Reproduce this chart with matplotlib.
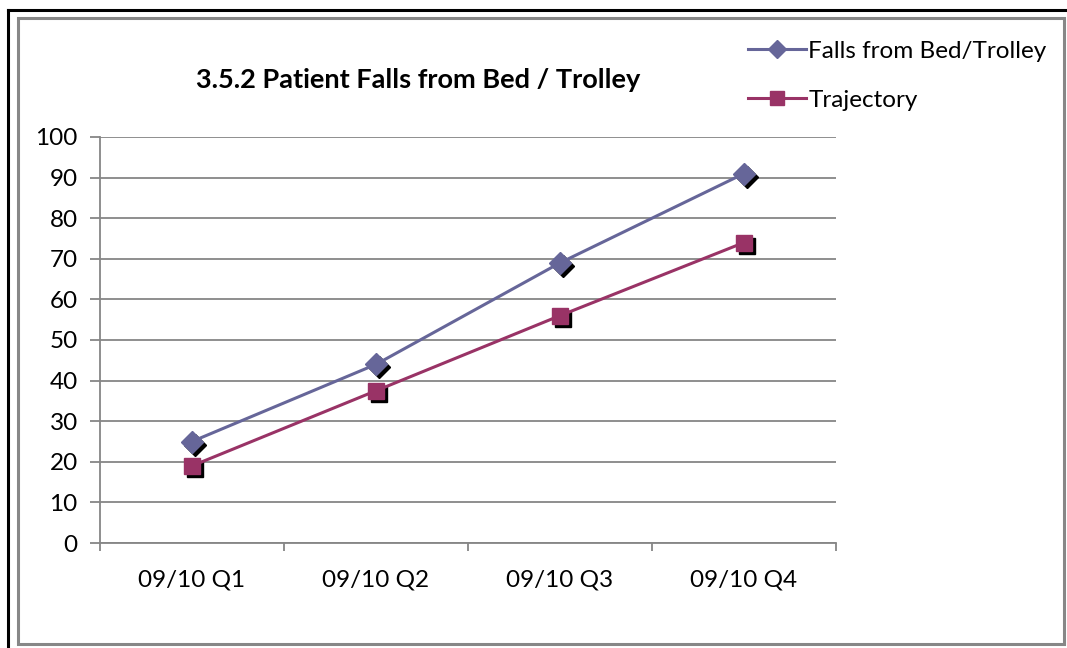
import matplotlib.pyplot as plt
import matplotlib.transforms as mtransforms
from matplotlib.lines import Line2D
from matplotlib.patches import Rectangle
import numpy as np

plt.rcParams['font.family'] = ['Lato', 'DejaVu Sans']

quarters = ["09/10 Q1", "09/10 Q2", "09/10 Q3", "09/10 Q4"]
falls = [25, 44, 69, 91]
trajectory = [19, 37.5, 56, 74]

falls_color = "#666699"
traj_color = "#993366"
grid_color = "#868686"

fig = plt.figure(figsize=(10.67, 6.48), dpi=100)
W, H = 1067, 648

# outer frames
fig.add_artist(Line2D([8 / W, 8 / W], [0, 1 - 10 / H], color="black", lw=2.2))
fig.add_artist(Line2D([8 / W, 1], [1 - 10 / H, 1 - 10 / H], color="black", lw=2.2))
fig.add_artist(Rectangle((18 / W, 4 / H), (1064 - 18) / W, (644 - 18) / H,
                         fill=False, edgecolor="#878787", lw=2.2))

ax = fig.add_axes([100 / W, 1 - 543 / H, (836 - 100) / W, (543 - 137) / H])
x = np.arange(len(quarters))

# drop shadows for markers
shadow = ax.transData + mtransforms.ScaledTranslation(3 / 100, -3 / 100, fig.dpi_scale_trans)
ax.plot(x, falls, linestyle="none", marker="D", markersize=11, color="black",
        transform=shadow, zorder=3)
ax.plot(x, trajectory, linestyle="none", marker="s", markersize=12, color="black",
        transform=shadow, zorder=3)

ax.plot(x, falls, color=falls_color, lw=2.2, marker="D", markersize=11,
        label="Falls from Bed/Trolley", zorder=4)
ax.plot(x, trajectory, color=traj_color, lw=2.2, marker="s", markersize=12,
        label="Trajectory", zorder=5)

ax.set_xlim(-0.5, len(quarters) - 0.5)
ax.set_ylim(0, 100)
ax.set_yticks(range(0, 101, 10))
ax.set_xticks(np.arange(-0.5, len(quarters), 1.0))
ax.set_xticklabels([])
ax.set_xticks(x, minor=True)
ax.set_xticklabels(quarters, minor=True)
ax.tick_params(axis="x", which="minor", length=0, pad=19, labelsize=17.5)
ax.tick_params(axis="x", which="major", length=6, color=grid_color, width=1.3)
ax.tick_params(axis="y", length=7, color=grid_color, width=1.3, labelsize=17.5, pad=9)
ax.grid(axis="y", color=grid_color, lw=1.3)
ax.set_axisbelow(True)
for s in ["top", "right"]:
    ax.spines[s].set_visible(False)
for s in ["left", "bottom"]:
    ax.spines[s].set_color(grid_color)
    ax.spines[s].set_linewidth(1.3)

fig.text(418 / W, 1 - 80 / H, "3.5.2 Patient Falls from Bed / Trolley",
         ha="center", va="center", fontsize=19.5, fontweight="bold")

fig.legend(loc="upper left", bbox_to_anchor=(738 / W, 1 - 31 / H), frameon=False,
           fontsize=17.5, handlelength=2.4, labelspacing=1.15, handletextpad=0.1,
           borderaxespad=0, markerscale=0.85)

fig.savefig("out.png", dpi=100)
